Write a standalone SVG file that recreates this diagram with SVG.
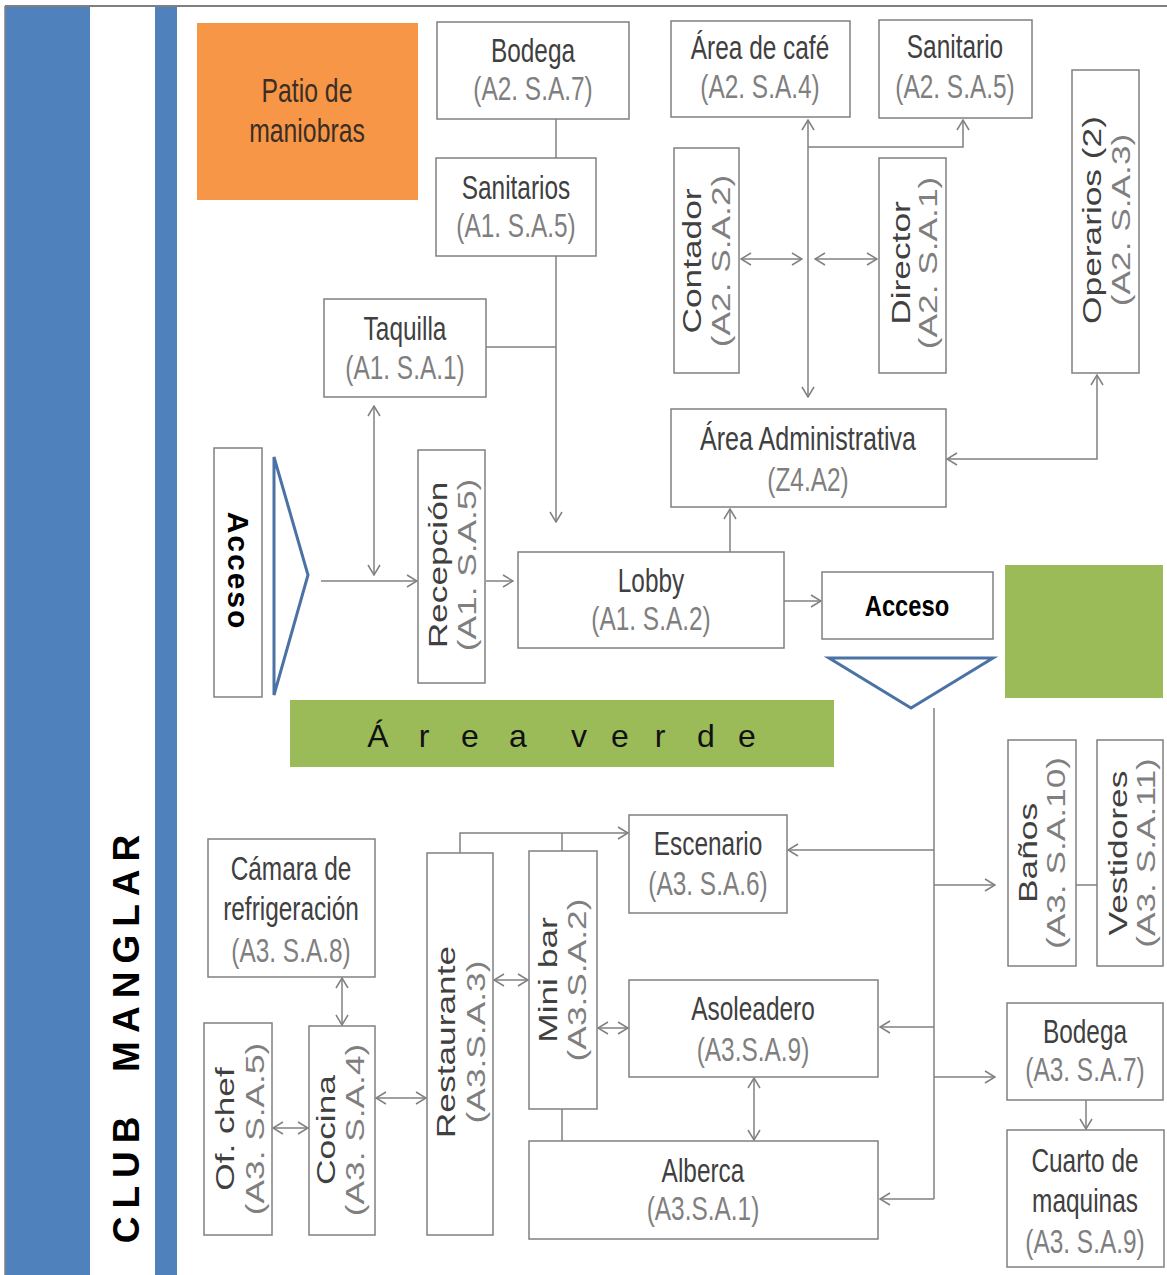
<svg xmlns="http://www.w3.org/2000/svg" width="1167" height="1275" viewBox="0 0 1167 1275">
<style>
.box{fill:#fff;stroke:#808080;stroke-width:1.5}
.t{font-family:"Liberation Sans",Arial,sans-serif;font-size:33px;text-anchor:middle}
.nm{fill:#404040}
.cd{fill:#7f7f7f}
.c{fill:none;stroke:#808080;stroke-width:1.5}
.tri{fill:#fff;stroke:#4a72a4;stroke-width:3;stroke-linejoin:miter}
.acc{font-family:"Liberation Sans",Arial,sans-serif;font-weight:bold;fill:#000;text-anchor:middle}
</style>
<defs>
<marker id="ah" viewBox="0 0 12 14" refX="11" refY="7" markerWidth="12" markerHeight="14" markerUnits="userSpaceOnUse" orient="auto-start-reverse"><path d="M1,1 L11,7 L1,13" fill="none" stroke="#808080" stroke-width="1.5"/></marker>
</defs>
<rect x="0" y="0" width="1167" height="1275" fill="#fff"/>
<!-- frame and side bars -->
<g id="frame">
<rect x="5" y="6" width="85" height="1269" fill="#4f81bd"/>
<rect x="155" y="6" width="22" height="1269" fill="#4f81bd"/>
<line x1="5" y1="6" x2="1167" y2="6" stroke="#7f7f7f" stroke-width="2"/>
<line x1="5" y1="6" x2="5" y2="1275" stroke="#7f7f7f" stroke-width="1.5"/>
<text transform="translate(139,1035) rotate(-90)" font-family="'Liberation Sans',Arial,sans-serif" font-weight="bold" font-size="37" letter-spacing="8" text-anchor="middle" fill="#000" xml:space="preserve">CLUB  MANGLAR</text>
</g>

<g id="connectors">
<line class="c" x1="556" y1="119" x2="556" y2="158"/>
<line class="c" x1="556" y1="256" x2="556" y2="522" marker-end="url(#ah)"/>
<line class="c" x1="486" y1="347" x2="556" y2="347"/>
<line class="c" x1="321" y1="581" x2="417" y2="581" marker-end="url(#ah)"/>
<line class="c" x1="374" y1="406" x2="374" y2="575" marker-start="url(#ah)" marker-end="url(#ah)"/>
<line class="c" x1="486" y1="581" x2="513" y2="581" marker-end="url(#ah)"/>
<line class="c" x1="730" y1="552" x2="730" y2="509" marker-end="url(#ah)"/>
<line class="c" x1="784" y1="601" x2="821" y2="601" marker-end="url(#ah)"/>
<line class="c" x1="808" y1="120" x2="808" y2="397" marker-start="url(#ah)" marker-end="url(#ah)"/>
<polyline class="c" points="808,147 963,147 963,120" marker-end="url(#ah)"/>
<line class="c" x1="741" y1="259" x2="802" y2="259" marker-start="url(#ah)" marker-end="url(#ah)"/>
<line class="c" x1="815" y1="259" x2="877" y2="259" marker-start="url(#ah)" marker-end="url(#ah)"/>
<polyline class="c" points="947,459 1097,459 1097,375" marker-start="url(#ah)" marker-end="url(#ah)"/>
<line class="c" x1="934" y1="708" x2="934" y2="1199"/>
<line class="c" x1="934" y1="850" x2="788" y2="850" marker-end="url(#ah)"/>
<line class="c" x1="934" y1="885" x2="995" y2="885" marker-end="url(#ah)"/>
<line class="c" x1="934" y1="1027" x2="880" y2="1027" marker-end="url(#ah)"/>
<line class="c" x1="934" y1="1077" x2="995" y2="1077" marker-end="url(#ah)"/>
<line class="c" x1="934" y1="1199" x2="880" y2="1199" marker-end="url(#ah)"/>
<line class="c" x1="1076" y1="885" x2="1097" y2="885"/>
<line class="c" x1="1086" y1="1100" x2="1086" y2="1129" marker-end="url(#ah)"/>
<polyline class="c" points="460,853 460,833 628,833" marker-end="url(#ah)"/>
<line class="c" x1="562" y1="851" x2="562" y2="833"/>
<line class="c" x1="494" y1="980" x2="528" y2="980" marker-start="url(#ah)" marker-end="url(#ah)"/>
<line class="c" x1="598" y1="1028" x2="628" y2="1028" marker-start="url(#ah)" marker-end="url(#ah)"/>
<line class="c" x1="754" y1="1078" x2="754" y2="1140" marker-start="url(#ah)" marker-end="url(#ah)"/>
<line class="c" x1="562" y1="1109" x2="562" y2="1141"/>
<line class="c" x1="376" y1="1098" x2="426" y2="1098" marker-start="url(#ah)" marker-end="url(#ah)"/>
<line class="c" x1="342" y1="978" x2="342" y2="1025" marker-start="url(#ah)" marker-end="url(#ah)"/>
<line class="c" x1="273" y1="1128" x2="308" y2="1128" marker-start="url(#ah)" marker-end="url(#ah)"/>
</g>

<g id="patio">
<rect x="197" y="23" width="221" height="177" fill="#f79646"/>
<text class="t" fill="#3a2e26" transform="translate(307,102) scale(0.75,1)">Patio de</text>
<text class="t" fill="#3a2e26" transform="translate(307,142) scale(0.75,1)">maniobras</text>
</g>
<g id="bodega-a2">
<rect class="box" x="437" y="22" width="192" height="97"/>
<text class="t nm" transform="translate(533,62) scale(0.74,1)">Bodega</text>
<text class="t cd" transform="translate(533,100) scale(0.74,1)">(A2. S.A.7)</text>
</g>
<g id="sanitarios-a1">
<rect class="box" x="436" y="158" width="160" height="98"/>
<text class="t nm" transform="translate(516,199) scale(0.74,1)">Sanitarios</text>
<text class="t cd" transform="translate(516,237) scale(0.74,1)">(A1. S.A.5)</text>
</g>
<g id="taquilla">
<rect class="box" x="324" y="299" width="162" height="98"/>
<text class="t nm" transform="translate(405,340) scale(0.74,1)">Taquilla</text>
<text class="t cd" transform="translate(405,379) scale(0.74,1)">(A1. S.A.1)</text>
</g>
<g id="area-cafe">
<rect class="box" x="671" y="21" width="179" height="96"/>
<text class="t nm" transform="translate(760,59) scale(0.74,1)">Área de café</text>
<text class="t cd" transform="translate(760,98) scale(0.74,1)">(A2. S.A.4)</text>
</g>
<g id="sanitario-a2">
<rect class="box" x="879" y="20" width="153" height="98"/>
<text class="t nm" transform="translate(955,58) scale(0.74,1)">Sanitario</text>
<text class="t cd" transform="translate(955,98) scale(0.74,1)">(A2. S.A.5)</text>
</g>
<g id="contador">
<rect class="box" x="674" y="148" width="65" height="225"/>
<text class="t nm" transform="translate(701,261) rotate(-90) scale(1.07,0.76)">Contador</text>
<text class="t cd" transform="translate(730,261) rotate(-90) scale(1.07,0.76)">(A2. S.A.2)</text>
</g>
<g id="director">
<rect class="box" x="879" y="158" width="67" height="215"/>
<text class="t nm" transform="translate(910,263) rotate(-90) scale(1.07,0.76)">Director</text>
<text class="t cd" transform="translate(937,263) rotate(-90) scale(1.07,0.76)">(A2. S.A.1)</text>
</g>
<g id="operarios">
<rect class="box" x="1072" y="70" width="67" height="303"/>
<text class="t nm" transform="translate(1101,220) rotate(-90) scale(1.07,0.76)">Operarios (2)</text>
<text class="t cd" transform="translate(1130,220) rotate(-90) scale(1.07,0.76)">(A2. S.A.3)</text>
</g>
<g id="area-administrativa">
<rect class="box" x="671" y="409" width="275" height="98"/>
<text class="t nm" transform="translate(808,450) scale(0.76,1)">Área Administrativa</text>
<text class="t cd" transform="translate(808,491) scale(0.74,1)">(Z4.A2)</text>
</g>
<g id="acceso-oeste">
<rect class="box" x="214" y="448" width="48" height="249"/>
<text class="acc" font-size="30" letter-spacing="2" transform="translate(228,571) rotate(90)">Acceso</text>
<polygon class="tri" points="274,457 308,575 274,695"/>
</g>
<g id="recepcion">
<rect class="box" x="418" y="450" width="67" height="233"/>
<text class="t nm" transform="translate(447,565) rotate(-90) scale(1.07,0.76)">Recepción</text>
<text class="t cd" transform="translate(476,565) rotate(-90) scale(1.07,0.76)">(A1. S.A.5)</text>
</g>
<g id="lobby">
<rect class="box" x="518" y="552" width="266" height="96"/>
<text class="t nm" transform="translate(651,592) scale(0.74,1)">Lobby</text>
<text class="t cd" transform="translate(651,630) scale(0.74,1)">(A1. S.A.2)</text>
</g>
<g id="acceso-este">
<rect class="box" x="822" y="572" width="171" height="67"/>
<text class="acc" font-size="29" transform="translate(907,616) scale(0.82,1)">Acceso</text>
<polygon class="tri" points="829,658 993,658 911,708"/>
</g>
<g id="verde-este">
<rect x="1005" y="565" width="158" height="133" fill="#9bbb59"/>
</g>
<g id="area-verde">
<rect x="290" y="700" width="544" height="67" fill="#9bbb59"/>
<text font-family="'Liberation Sans',Arial,sans-serif" font-size="32" fill="#111" text-anchor="middle" x="378 401 424 447 470 494 518 548 579 600 620 640 660 683 706 727 747" y="747">Á r e a v e r d e</text>
</g>
<g id="camara">
<rect class="box" x="208" y="839" width="167" height="138"/>
<text class="t nm" transform="translate(291,880) scale(0.74,1)">Cámara de</text>
<text class="t nm" transform="translate(291,920) scale(0.74,1)">refrigeración</text>
<text class="t cd" transform="translate(291,962) scale(0.74,1)">(A3. S.A.8)</text>
</g>
<g id="of-chef">
<rect class="box" x="204" y="1023" width="68" height="212"/>
<text class="t nm" transform="translate(234,1129) rotate(-90) scale(1.07,0.76)">Of. chef</text>
<text class="t cd" transform="translate(264,1129) rotate(-90) scale(1.07,0.76)">(A3. S.A.5)</text>
</g>
<g id="cocina">
<rect class="box" x="309" y="1026" width="66" height="209"/>
<text class="t nm" transform="translate(335,1130) rotate(-90) scale(1.07,0.76)">Cocina</text>
<text class="t cd" transform="translate(364,1130) rotate(-90) scale(1.07,0.76)">(A3. S.A.4)</text>
</g>
<g id="restaurante">
<rect class="box" x="427" y="853" width="66" height="382"/>
<text class="t nm" transform="translate(455,1042) rotate(-90) scale(1.07,0.76)">Restaurante</text>
<text class="t cd" transform="translate(485,1042) rotate(-90) scale(1.07,0.76)">(A3.S.A.3)</text>
</g>
<g id="mini-bar">
<rect class="box" x="529" y="851" width="68" height="258"/>
<text class="t nm" transform="translate(557,980) rotate(-90) scale(1.07,0.76)">Mini bar</text>
<text class="t cd" transform="translate(586,980) rotate(-90) scale(1.07,0.76)">(A3.S.A.2)</text>
</g>
<g id="escenario">
<rect class="box" x="629" y="815" width="158" height="98"/>
<text class="t nm" transform="translate(708,855) scale(0.74,1)">Escenario</text>
<text class="t cd" transform="translate(708,895) scale(0.74,1)">(A3. S.A.6)</text>
</g>
<g id="asoleadero">
<rect class="box" x="629" y="980" width="249" height="97"/>
<text class="t nm" transform="translate(753,1020) scale(0.74,1)">Asoleadero</text>
<text class="t cd" transform="translate(753,1061) scale(0.74,1)">(A3.S.A.9)</text>
</g>
<g id="alberca">
<rect class="box" x="529" y="1141" width="349" height="98"/>
<text class="t nm" transform="translate(703,1182) scale(0.74,1)">Alberca</text>
<text class="t cd" transform="translate(703,1220) scale(0.74,1)">(A3.S.A.1)</text>
</g>
<g id="banos">
<rect class="box" x="1008" y="740" width="68" height="226"/>
<text class="t nm" transform="translate(1037,853) rotate(-90) scale(1.07,0.76)">Baños</text>
<text class="t cd" transform="translate(1065,853) rotate(-90) scale(1.07,0.76)">(A3. S.A.10)</text>
</g>
<g id="vestidores">
<rect class="box" x="1097" y="740" width="66" height="226"/>
<text class="t nm" transform="translate(1127,853) rotate(-90) scale(1.07,0.76)">Vestidores</text>
<text class="t cd" transform="translate(1155,853) rotate(-90) scale(1.07,0.76)">(A3. S.A.11)</text>
</g>
<g id="bodega-a3">
<rect class="box" x="1007" y="1003" width="156" height="97"/>
<text class="t nm" transform="translate(1085,1043) scale(0.74,1)">Bodega</text>
<text class="t cd" transform="translate(1085,1081) scale(0.74,1)">(A3. S.A.7)</text>
</g>
<g id="cuarto-maquinas">
<rect class="box" x="1007" y="1130" width="157" height="137"/>
<text class="t nm" transform="translate(1085,1172) scale(0.74,1)">Cuarto de</text>
<text class="t nm" transform="translate(1085,1212) scale(0.74,1)">maquinas</text>
<text class="t cd" transform="translate(1085,1253) scale(0.74,1)">(A3. S.A.9)</text>
</g>
</svg>
